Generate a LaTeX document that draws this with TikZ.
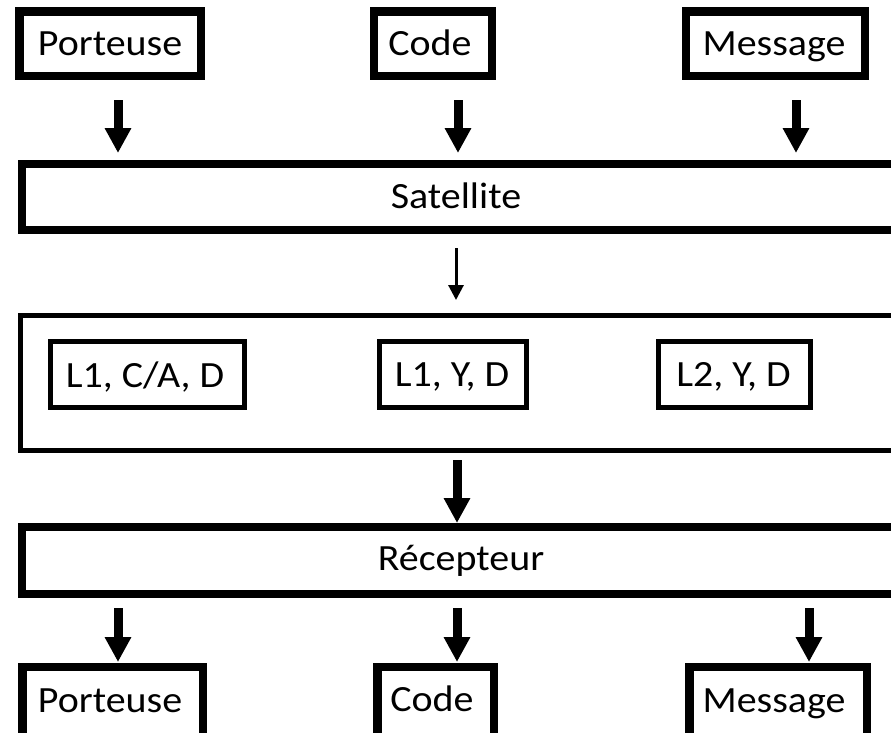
\documentclass[tikz,border=0pt]{standalone}
\usepackage{fontspec}
\setmainfont{Carlito}
\usetikzlibrary{arrows.meta}

% slightly widened lettering
\newcommand{\widetxt}[1]{\scalebox{1.08}[1]{#1}}

\tikzset{
  lbl/.style={font=\fontsize{37}{40}\selectfont, inner sep=0pt, anchor=base},
  heavybox/.style={draw=black, line width=8.5pt, fill=white, inner sep=0pt, anchor=center},
  lightbox/.style={draw=black, line width=5pt, fill=white, inner sep=0pt, anchor=center},
  bigarrow/.style={line width=9pt, -{Triangle[width=25pt,length=25pt]}},
  smallarrow/.style={line width=3pt, -{Triangle[width=15pt,length=15pt]}},
}

\begin{document}
\begin{tikzpicture}[x=1pt,y=-1pt]
  \useasboundingbox (0,0) rectangle (891,732);
  \clip (0,0) rectangle (891,732);

  % sources
  \node[heavybox, minimum width=181.5pt, minimum height=64.5pt] (srcP) at (110.25,43.75) {};
  \node[lbl] (srcPt) at (110,55) {\widetxt{Porteuse}};
  \node[heavybox, minimum width=118pt, minimum height=64.5pt] (srcC) at (433,43.75) {};
  \node[lbl] (srcCt) at (430,55) {\widetxt{Code}};
  \node[heavybox, minimum width=179pt, minimum height=64.5pt] (srcM) at (775.5,43.75) {};
  \node[lbl] (srcMt) at (774,55) {\widetxt{Message}};

  % satellite band
  \node[heavybox, minimum width=900pt, minimum height=66pt] (sat) at (472,197) {};
  \node[lbl] (satT) at (456,208) {\widetxt{Satellite}};

  % signal band with the three combinations
  \node[lightbox, minimum width=900pt, minimum height=135pt] (sig) at (470.5,383) {};
  \node[lightbox, minimum width=194pt, minimum height=66pt] (s1) at (147.5,374.5) {};
  \node[lbl] (s1t) at (145,387) {\widetxt{L1, C/A, D}};
  \node[lightbox, minimum width=147pt, minimum height=66pt] (s2) at (453,374.5) {};
  \node[lbl] (s2t) at (452,386) {\widetxt{L1, Y, D}};
  \node[lightbox, minimum width=152pt, minimum height=66pt] (s3) at (734.5,374.5) {};
  \node[lbl] (s3t) at (733.5,386) {\widetxt{L2, Y, D}};

  % receiver band
  \node[heavybox, minimum width=900pt, minimum height=67pt] (rec) at (472,560.5) {};
  \node[lbl] (recT) at (461,570) {\widetxt{Récepteur}};

  % outputs
  \node[heavybox, minimum width=180.5pt, minimum height=71pt] (outP) at (112.5,702.5) {};
  \node[lbl] (outPt) at (110,712) {\widetxt{Porteuse}};
  \node[heavybox, minimum width=116.5pt, minimum height=71pt] (outC) at (435.5,702.5) {};
  \node[lbl] (outCt) at (432,711) {\widetxt{Code}};
  \node[heavybox, minimum width=177.5pt, minimum height=71pt] (outM) at (778,702.5) {};
  \node[lbl] (outMt) at (774,712) {\widetxt{Message}};

  % arrow ends
  \coordinate (a1s) at (118,100);  \coordinate (a1e) at (118,153);
  \coordinate (a2s) at (458,100);  \coordinate (a2e) at (458,153);
  \coordinate (a3s) at (796,100);  \coordinate (a3e) at (796,153);
  \coordinate (b0s) at (456,248);  \coordinate (b0e) at (456,300);
  \coordinate (c0s) at (457,460);  \coordinate (c0e) at (457,523);
  \coordinate (d1s) at (118,608);  \coordinate (d1e) at (118,662);
  \coordinate (d2s) at (457,608);  \coordinate (d2e) at (457,662);
  \coordinate (d3s) at (809,608);  \coordinate (d3e) at (809,662);

  \draw[bigarrow] (a1s) -- (a1e);
  \draw[bigarrow] (a2s) -- (a2e);
  \draw[bigarrow] (a3s) -- (a3e);
  \draw[smallarrow] (b0s) -- (b0e);
  \draw[bigarrow] (c0s) -- (c0e);
  \draw[bigarrow] (d1s) -- (d1e);
  \draw[bigarrow] (d2s) -- (d2e);
  \draw[bigarrow] (d3s) -- (d3e);
\end{tikzpicture}
\end{document}
